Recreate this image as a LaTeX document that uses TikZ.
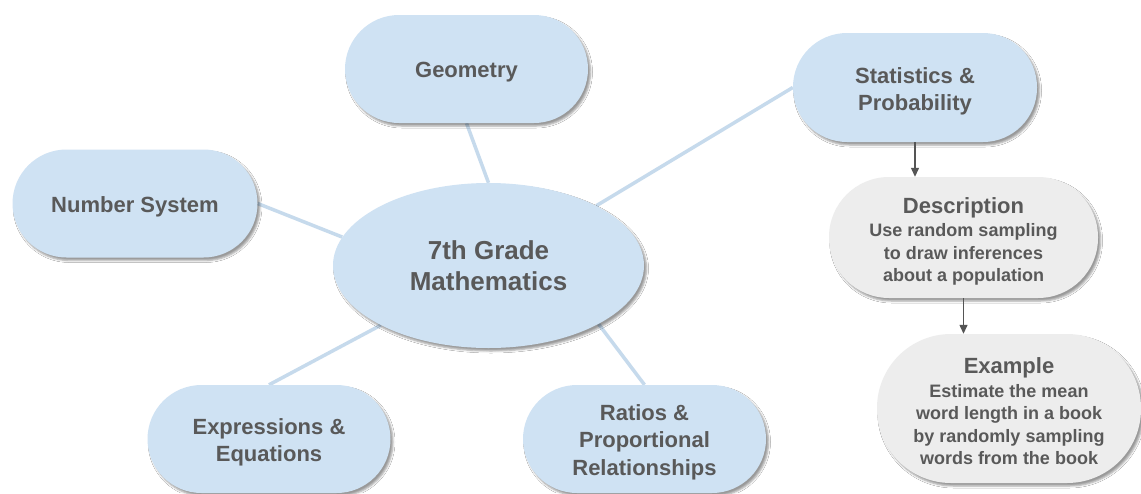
\documentclass[tikz,border=0pt]{standalone}
\usepackage{fontspec}
\setmainfont{Liberation Sans}
\usetikzlibrary{shapes.geometric,arrows.meta,shadows.blur,backgrounds}
\definecolor{boxblue}{HTML}{CFE2F3}
\definecolor{boxgray}{HTML}{EDEDED}
\definecolor{txtgray}{HTML}{595959}
\definecolor{edgeblue}{HTML}{C6DAEC}
\definecolor{arrowgray}{HTML}{555555}
\newcommand{\lift}[1]{\rule{0pt}{#1}}
\begin{document}
\begin{tikzpicture}[x=1pt,y=-1pt,
  shad/.style={blur shadow={shadow xshift=2.5pt,shadow yshift=-3pt,shadow blur radius=2pt,shadow opacity=40}},
  topic/.style={shad, fill=boxblue, rounded corners=54pt, minimum width=243pt, minimum height=108pt,
    inner sep=0pt, align=center, text=txtgray, font=\bfseries\fontsize{22}{27.5}\selectfont},
  central/.style={shad, ellipse, fill=boxblue, minimum width=311pt, minimum height=165pt,
    inner sep=0pt, align=center, text=txtgray, font=\bfseries\fontsize{26}{31}\selectfont},
  info/.style={shad, fill=boxgray, rounded corners=60pt, inner sep=0pt, align=center,
    text=txtgray, font=\bfseries\fontsize{18}{22.5}\selectfont},
  spoke/.style={draw=edgeblue, line width=3.5pt},
  flow/.style={draw=arrowgray, line width=1.3pt, -{Triangle[length=9pt,width=8pt]}}]
\useasboundingbox (0,0) rectangle (1141,493);

\node[central] (math) at (488.5,265.5) {7th Grade\\Mathematics};
\node[topic] (geo) at (466.5,69) {\lift{22pt}Geometry};
\node[topic, minimum width=245pt] (ns) at (135,203.5) {\lift{22pt}Number System};
\node[topic] (expr) at (269,439) {\lift{23pt}Expressions \&\\Equations};
\node[topic] (ratio) at (644.5,439) {\lift{22pt}Ratios \&\\Proportional\\Relationships};
\node[topic, minimum width=244pt, minimum height=109pt] (stats) at (915,87.5) {\lift{24pt}Statistics \&\\Probability};
\node[info, minimum width=269pt, minimum height=121pt] (desc) at (963.5,237.5)
  {\lift{24pt}{\fontsize{22}{26}\selectfont Description}\\[1pt]Use random sampling\\to draw inferences\\about a population};
\node[info, rounded corners=74pt, minimum width=264pt, minimum height=149pt] (ex) at (1009,408.5)
  {\lift{22pt}{\fontsize{22}{26}\selectfont Example}\\[1pt]Estimate the mean\\word length in a book\\by randomly sampling\\words from the book};

\begin{scope}[on background layer]
  \fill[white] (0,0) rectangle (1141,493);
  \draw[spoke] (geo.south) -- (math.north);
  \draw[spoke] (ns.east) -- (math.169);
  \draw[spoke] (stats.west) -- (math.29);
  \draw[spoke] (expr.north) -- (math.209);
  \draw[spoke] (ratio.north) -- (math.332);
\end{scope}

\draw[flow] (stats.south) -- (stats.south |- desc.north);
\draw[flow] (desc.south) -- (desc.south |- ex.north);
\end{tikzpicture}
\end{document}
